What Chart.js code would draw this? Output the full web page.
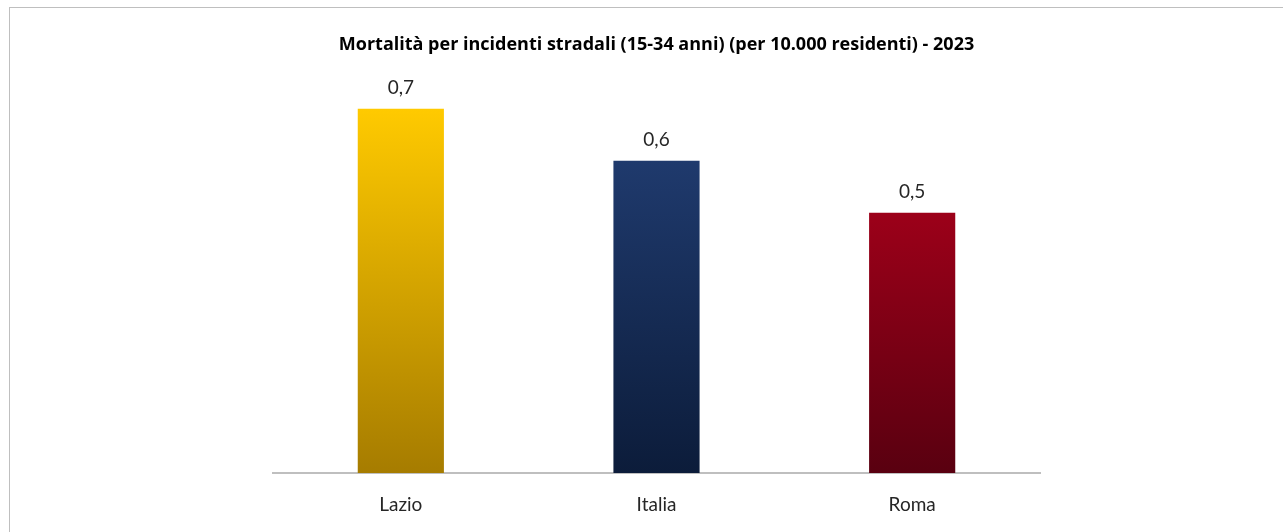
<!DOCTYPE html>
<html>
<head>
<meta charset="utf-8">
<script src="https://cdn.jsdelivr.net/npm/chart.js@4.4.1/dist/chart.umd.min.js"></script>
<style>
  html, body { margin: 0; padding: 0; background: #fff; overflow: hidden; }
  #frame { position: absolute; left: 9px; top: 7px; width: 1400px; height: 600px; border: 1px solid #bfbfbf; }
  #wrap { position: absolute; left: 0; top: 0; width: 1283px; height: 532px; }
</style>
</head>
<body>
<div id="frame"></div>
<div id="wrap"><canvas id="barChart"></canvas></div>
<script>
// dati
var categorie = ["Lazio", "Italia", "Roma"];
var valori = [0.7, 0.6, 0.5];
var coloriAlto = ["#ffca00", "#1f3a6d", "#9c0019"];
var coloriBasso = ["#a67c00", "#0c1c3a", "#590010"];

var titolo = "Mortalità per incidenti stradali (15-34 anni) (per 10.000 residenti) - 2023";
var fontFam = "Lato, 'Open Sans', sans-serif";
var fontTitolo = "'Open Sans', Lato, sans-serif";

// gradiente verticale per ogni barra
function gradiente(context) {
  var chart = context.chart;
  var i = context.dataIndex;
  if (!chart.chartArea || i === undefined) return coloriAlto[i || 0];
  var y = chart.scales.y;
  var top = y.getPixelForValue(valori[i]);
  var bottom = y.getPixelForValue(0);
  var g = chart.ctx.createLinearGradient(0, top, 0, bottom);
  g.addColorStop(0, coloriAlto[i]);
  g.addColorStop(1, coloriBasso[i]);
  return g;
}

// etichette sopra le barre
var etichette = {
  id: 'etichette',
  afterDatasetsDraw: function(chart) {
    var ctx = chart.ctx;
    var meta = chart.getDatasetMeta(0);
    ctx.save();
    ctx.font = "19px " + fontFam;
    ctx.fillStyle = "#262626";
    ctx.textAlign = "center";
    ctx.textBaseline = "middle";
    meta.data.forEach(function(bar, i) {
      ctx.fillText(valori[i].toFixed(1).replace(".", ","), bar.x, bar.y - 21);
    });
    ctx.restore();
  }
};

var ctx = document.getElementById('barChart').getContext('2d');
var grafico = new Chart(ctx, {
  type: 'bar',
  data: {
    labels: categorie,
    datasets: [{
      data: valori,
      backgroundColor: gradiente,
      borderWidth: 0,
      categoryPercentage: 1,
      barPercentage: 0.337
    }]
  },
  options: {
    responsive: true,
    maintainAspectRatio: false,
    animation: false,
    layout: { padding: { left: 273, right: 243, top: 0, bottom: 0 } },
    plugins: {
      legend: { display: false },
      tooltip: { enabled: false },
      title: {
        display: true,
        text: titolo,
        color: "#000",
        font: { family: fontTitolo, size: 18, weight: 'bold' },
        padding: { top: 34, bottom: 1 }
      }
    },
    scales: {
      x: {
        grid: { display: false, drawTicks: false },
        border: { display: true, color: "#bfbfbf", width: 2 },
        ticks: { color: "#262626", font: { family: fontFam, size: 19 }, padding: 20 },
        afterFit: function(scale) { scale.height = 59; }
      },
      y: {
        display: false,
        min: 0,
        max: 0.8
      }
    }
  },
  plugins: [etichette]
});
</script>
</body>
</html>
